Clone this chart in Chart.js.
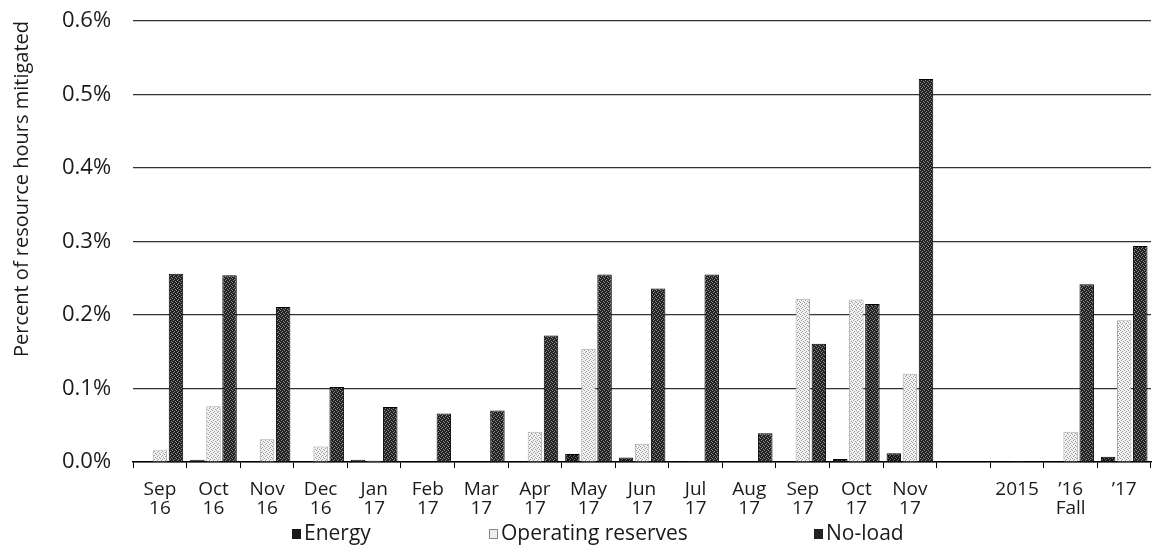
<!DOCTYPE html>
<html>
<head>
<meta charset="utf-8">
<script src="https://cdn.jsdelivr.net/npm/chart.js@4"></script>
<style>
  html, body { margin: 0; padding: 0; background: #fff; }
  #wrap { position: relative; width: 1154px; height: 554px; }
  #legend { position: absolute; left: 0; top: 520px; width: 1154px; height: 26px;
    font-family: "Open Sans", sans-serif; font-size: 21px; color: #1a1a1a; }
  #legend span.item { position: absolute; top: 0; line-height: 24px; white-space: nowrap; }
  #legend i { display: inline-block; width: 9px; height: 10px; margin-right: 3px; vertical-align: 1px; box-sizing: border-box; }
</style>
</head>
<body>
<div id="wrap">
  <canvas id="mitig" width="1154" height="554"></canvas>
  <div id="legend">
    <span class="item" style="left:292px"><i style="background:#1a1a1a"></i>Energy</span>
    <span class="item" style="left:489px"><i style="background:#eee;border:1px solid #888"></i>Operating reserves</span>
    <span class="item" style="left:814px"><i style="background:#222"></i>No-load</span>
  </div>
</div>
<script>
var months = [['Sep','16'],['Oct','16'],['Nov','16'],['Dec','16'],['Jan','17'],['Feb','17'],['Mar','17'],
  ['Apr','17'],['May','17'],['Jun','17'],['Jul','17'],['Aug','17'],['Sep','17'],['Oct','17'],['Nov','17'],
  '', '2015', ['\u201916','Fall'], '\u201917'];
// percent of resource hours mitigated
var energy   = [0.001, 0.003, 0, 0, 0.003, 0, 0, 0, 0.011, 0.006, 0.001, 0, 0.001, 0.004, 0.012, null, 0.001, 0, 0.007];
var opRes    = [0.016, 0.076, 0.031, 0.021, 0.002, 0, 0, 0.041, 0.154, 0.025, 0.001, 0, 0.222, 0.221, 0.120, null, 0.001, 0.041, 0.193];
var noLoad   = [0.256, 0.254, 0.211, 0.102, 0.075, 0.066, 0.070, 0.172, 0.255, 0.236, 0.255, 0.039, 0.161, 0.215, 0.521, null, 0, 0.242, 0.294];
var yTicks = [0, 0.1, 0.2, 0.3, 0.4, 0.5, 0.6];

// little speckle fill like the scanned bars
function speckle(bg, fg) {
    var c = document.createElement('canvas');
    c.width = 4; c.height = 4;
    var g = c.getContext('2d');
    g.fillStyle = bg; g.fillRect(0, 0, 4, 4);
    g.fillStyle = fg;
    g.fillRect(1, 0, 1, 1); g.fillRect(3, 1, 1, 1); g.fillRect(0, 2, 1, 1); g.fillRect(2, 3, 1, 1);
    return g.createPattern(c, 'repeat');
}

var ctx = document.getElementById('mitig').getContext('2d');
var chart = new Chart(ctx, {
    type: 'bar',
    data: {
        labels: months,
        datasets: [
            {
                label: 'Energy',
                data: energy,
                backgroundColor: speckle('#141414', '#6a6a6a'),
                borderColor: '#000',
                borderWidth: 1,
            },
            {
                label: 'Operating reserves',
                data: opRes,
                backgroundColor: speckle('#f2f2f2', '#9a9a9a'),
                borderColor: '#aaa',
                borderWidth: 1,
            },
            {
                label: 'No-load',
                data: noLoad,
                backgroundColor: speckle('#222', '#8c8c8c'),
                borderColor: '#000',
                borderWidth: 1,
            },
        ],
    },
    options: {
        responsive: false,
        animation: false,
        layout: { padding: { left: 6, right: 3, top: 21, bottom: 24 } },
        datasets: { bar: { categoryPercentage: 0.9, barPercentage: 0.9 } },
        plugins: {
            legend: { display: false },
            tooltip: { enabled: false },
        },
        scales: {
            x: {
                grid: { display: true, drawOnChartArea: false, drawTicks: true, tickLength: 6, color: '#000' },
                border: { display: true, color: '#000', width: 1.5 },
                ticks: {
                    color: '#1a1a1a',
                    padding: 12,
                    maxRotation: 0,
                    autoSkip: false,
                    font: { family: 'Open Sans', size: 19, lineHeight: 1.0 },
                },
            },
            y: {
                min: 0,
                max: 0.6,
                afterBuildTicks: function (axis) {
                    axis.ticks = yTicks.map(function (v) { return { value: v }; });
                },
                // invisible tick marks keep the gap between labels and plot
                grid: { color: '#333', lineWidth: 1.2, drawTicks: true, tickLength: 20, tickColor: 'rgba(0,0,0,0)' },
                border: { display: false },
                ticks: {
                    color: '#1a1a1a',
                    padding: 2,
                    font: { family: 'Open Sans', size: 22, lineHeight: 1.0 },
                    callback: function (v) { return v.toFixed(1) + '%'; },
                },
                title: {
                    display: true,
                    align: 'end',
                    text: 'Percent of resource hours mitigated',
                    color: '#1a1a1a',
                    padding: { top: 4, bottom: 26 },
                    font: { family: 'Open Sans', size: 20, lineHeight: 1.2 },
                },
            },
        },
    },
});
</script>
</body>
</html>
